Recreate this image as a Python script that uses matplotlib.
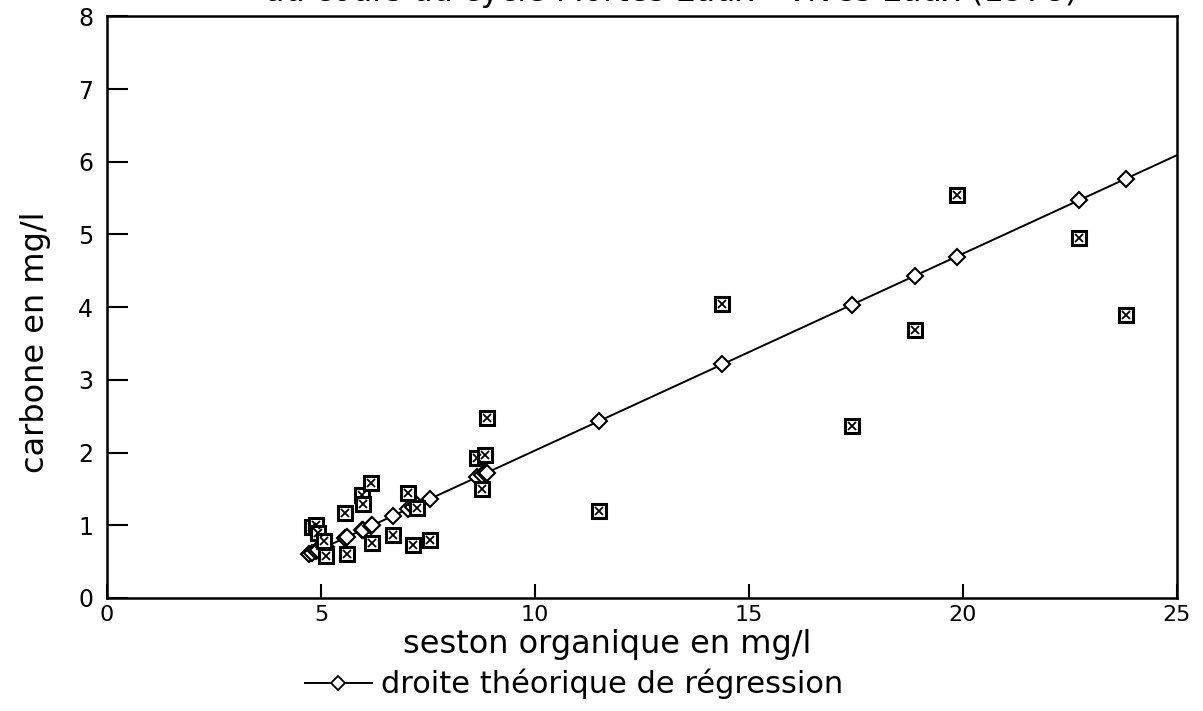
import numpy as np
import matplotlib
matplotlib.use("Agg")
import matplotlib.pyplot as plt
from matplotlib.lines import Line2D

# observed organic seston (mg/l) and carbon (mg/l)
seston = [4.80, 4.89, 4.94, 5.08, 5.12, 5.57, 5.61, 5.96, 5.99, 6.17,
          6.20, 6.69, 7.04, 7.14, 7.25, 7.56, 8.65, 8.77, 8.84, 8.87,
          11.51, 14.38, 17.42, 18.88, 19.86, 22.73, 23.82]
carbone = [0.97, 1.00, 0.90, 0.78, 0.58, 1.17, 0.60, 1.42, 1.29, 1.58,
           0.76, 0.87, 1.44, 0.73, 1.24, 0.80, 1.92, 1.50, 1.96, 2.47,
           1.19, 4.05, 2.37, 3.68, 5.54, 4.95, 3.89]

# x positions of the fitted points that are not observations above
extra_fit_x = [4.72]

# regression line  carbone = a * seston + b
slope_a = 0.2707
intercept_b = -0.68

x_ticks = [0, 5, 10, 15, 20, 25]
y_ticks = [0, 1, 2, 3, 4, 5, 6, 7, 8]

titre = "au cours du cycle Mortes Eaux - Vives Eaux (1978)"
xlabel = "seston organique en mg/l"
ylabel = "carbone en mg/l"
legend_label = "droite théorique de régression"

plt.rcParams["font.family"] = ["DejaVu Sans"]

fig = plt.figure(figsize=(12.03, 7.11), dpi=100)
ax = fig.add_axes([0.089, 0.159, 0.889, 0.818])

fit_x = np.sort(np.array(seston + extra_fit_x))
fit_y = slope_a * fit_x + intercept_b
line_x = np.array([fit_x.min(), 25])
ax.plot(line_x, slope_a * line_x + intercept_b, color="black", lw=1.4, zorder=2)
ax.plot(fit_x, fit_y, ls="none", marker="D", ms=8.5, mfc="white",
        mec="black", mew=1.5, zorder=3)

# observed points: open square with a cross inside
ax.plot(seston, carbone, ls="none", marker="s", ms=10, mfc="white",
        mec="black", mew=2.2, zorder=4)
ax.plot(seston, carbone, ls="none", marker="x", ms=6, mec="black",
        mew=1.3, zorder=5)

ax.set_xlim(0, 25)
ax.set_ylim(0, 8)
ax.set_xticks(x_ticks)
ax.set_yticks(y_ticks)
ax.tick_params(axis="y", direction="in", length=15, width=1.5, pad=10,
               labelsize=17, right=False)
ax.tick_params(axis="x", direction="in", length=10, width=1.5, pad=5,
               labelsize=16, top=False)
for sp in ax.spines.values():
    sp.set_linewidth(1.8)

ax.set_xlabel(xlabel, fontsize=23)
ax.set_ylabel(ylabel, fontsize=23)
ax.xaxis.set_label_coords(0.468, -0.08, transform=ax.transAxes)
ax.yaxis.set_label_coords(-0.067, 0.44, transform=ax.transAxes)
ax.xaxis.label.set_va("center")
ax.yaxis.label.set_va("center")

fig.text(0.558, 1 - 1 / 711, titre, fontsize=23, ha="center", va="baseline")

handle = Line2D([], [], color="black", lw=1.4, marker="D", ms=7,
                mfc="white", mec="black", mew=1.3)
fig.legend([handle], [legend_label], loc="center", frameon=False,
           bbox_to_anchor=(0.477, 0.038), fontsize=22, handlelength=2.2,
           handletextpad=0.3)

fig.savefig("out.png", dpi=100)
